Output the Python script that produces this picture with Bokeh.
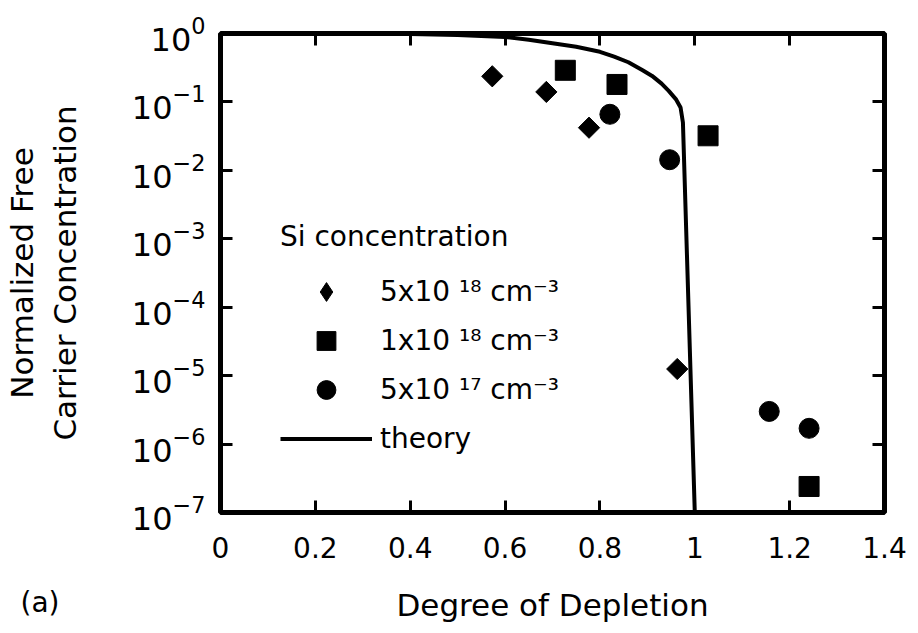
from bokeh.plotting import figure
from bokeh.models import (Range1d, LinearAxis, FixedTicker, CustomJSTickFormatter,
                          Legend, LegendItem, Label)
from bokeh.embed import file_html
from bokeh.resources import INLINE
import numpy as np

# ---- data ----
si_5e18_x = [0.573, 0.687, 0.777, 0.963]
si_5e18_y = [0.237, 0.14, 0.042, 1.25e-5]

si_1e18_x = [0.727, 0.836, 1.028, 1.241]
si_1e18_y = [0.29, 0.18, 0.032, 2.4e-7]

si_5e17_x = [0.821, 0.947, 1.157, 1.241]
si_5e17_y = [0.066, 0.0143, 3.0e-6, 1.7e-6]

theory_x = [0.0, 0.2, 0.4, 0.5, 0.6, 0.65, 0.7, 0.75, 0.8, 0.83, 0.86, 0.89, 0.91,
            0.93, 0.945, 0.96, 0.97, 0.975, 1.0]
theory_y = [1.0, 0.995, 0.98, 0.95, 0.89, 0.81, 0.72, 0.64, 0.54, 0.46, 0.38, 0.29, 0.24,
            0.185, 0.145, 0.11, 0.083, 0.05, 1e-7]

x_ticks = [0, 0.2, 0.4, 0.6, 0.8, 1.0, 1.2, 1.4]
x_tick_labels = ["0", "0.2", "0.4", "0.6", "0.8", "1", "1.2", "1.4"]
y_ticks = [1e-7, 1e-6, 1e-5, 1e-4, 1e-3, 1e-2, 1e-1, 1e0]

legend_title = "Si concentration"
series_labels = ["5x10 \u00b9\u2078 cm\u207b\u00b3", "1x10 \u00b9\u2078 cm\u207b\u00b3",
                 "5x10 \u00b9\u2077 cm\u207b\u00b3", "theory"]
panel_tag = "(a)"

FONT = "DejaVu Sans"
X_MIN, X_MAX = 0.0, 1.4
Y_MIN, Y_MAX = 1e-7, 1.0

p = figure(width=918, height=633,
           x_range=Range1d(X_MIN, X_MAX), y_range=Range1d(Y_MIN, Y_MAX),
           y_axis_type="log", output_backend="svg", toolbar_location=None,
           min_border_left=215, min_border_right=34, min_border_top=31, min_border_bottom=121)

p.background_fill_color = "white"
p.border_fill_color = "white"
p.outline_line_color = "black"
p.outline_line_width = 5
p.grid.visible = False

xfmt = CustomJSTickFormatter(args=dict(xt=x_ticks, xl=x_tick_labels), code="""
const i = xt.findIndex(t => Math.abs(t - tick) < 1e-9);
return i >= 0 ? xl[i] : '';
""")

def style_axis(ax):
    ax.axis_line_color = None
    ax.major_tick_in = 12
    ax.major_tick_out = 0
    ax.major_tick_line_width = 3
    ax.major_tick_line_color = "black"
    ax.minor_tick_line_color = None
    ax.major_label_text_font = FONT
    ax.major_label_text_color = "black"

def hide_labels(ax):
    ax.formatter = CustomJSTickFormatter(code="return ' ';")
    ax.major_label_text_font_size = "2px"
    ax.major_label_standoff = 0

xa = p.xaxis[0]
xa.ticker = FixedTicker(ticks=x_ticks)
xa.formatter = xfmt
style_axis(xa)
xa.major_label_text_font_size = "28px"
xa.major_label_standoff = 24
xa.axis_label = "Degree of Depletion"
xa.axis_label_text_font = FONT
xa.axis_label_text_font_size = "31px"
xa.axis_label_text_font_style = "normal"
xa.axis_label_text_color = "black"
xa.axis_label_standoff = 26

ya = p.yaxis[0]
ya.ticker = FixedTicker(ticks=y_ticks)
style_axis(ya)
ya.major_label_text_font_size = "32px"
ya.major_label_standoff = 15
ya.axis_label = "Normalized Free\nCarrier Concentration"
ya.axis_label_text_font = FONT
ya.axis_label_text_font_size = "31px"
ya.axis_label_text_font_style = "normal"
ya.axis_label_text_color = "black"
ya.axis_label_standoff = 46

# mirrored inward ticks on the top and right edges of the frame
top = LinearAxis(ticker=FixedTicker(ticks=x_ticks), fixed_location=Y_MAX)
style_axis(top)
hide_labels(top)
p.add_layout(top, "above")
right = LinearAxis(ticker=FixedTicker(ticks=y_ticks), fixed_location=X_MAX)
style_axis(right)
hide_labels(right)
p.add_layout(right, "right")

r_th = p.line(theory_x, theory_y, line_color="black", line_width=4)
r1 = p.scatter(si_5e18_x, si_5e18_y, marker="square", angle=np.pi / 4, size=15,
               fill_color="black", line_color="black")
r2 = p.scatter(si_1e18_x, si_1e18_y, marker="square", size=20,
               fill_color="black", line_color="black")
r3 = p.scatter(si_5e17_x, si_5e17_y, marker="circle", size=20,
               fill_color="black", line_color="black")
# legend-only key (one non-drawable NaN point) so the legend shows a diamond;
# the legend ignores the rotation used for the data diamonds
r1_key = p.scatter(x=[np.nan], y=[np.nan], marker="diamond", size=15,
                   fill_color="black", line_color="black")

legend = Legend(items=[LegendItem(label=series_labels[0], renderers=[r1_key]),
                       LegendItem(label=series_labels[1], renderers=[r2]),
                       LegendItem(label=series_labels[2], renderers=[r3]),
                       LegendItem(label=series_labels[3], renderers=[r_th])],
                location=(60, 50), title=legend_title,
                title_text_font=FONT, title_text_font_size="28px", title_text_font_style="normal",
                title_text_color="black", title_standoff=15,
                label_text_font=FONT, label_text_font_size="28px", label_text_color="black",
                glyph_width=92, glyph_height=47, spacing=2, label_standoff=8,
                padding=0, margin=0, border_line_color=None, background_fill_alpha=0)
p.add_layout(legend, "center")

# panel tag outside the frame; placed in a side panel so it is not clipped to the frame
lab = Label(x=20, y=602, x_units="canvas", y_units="canvas", text=panel_tag,
            text_font=FONT, text_font_size="28px", text_align="left",
            text_baseline="middle", text_color="black")
p.add_layout(lab, "above")

open("out.html", "w").write(file_html(p, INLINE))
